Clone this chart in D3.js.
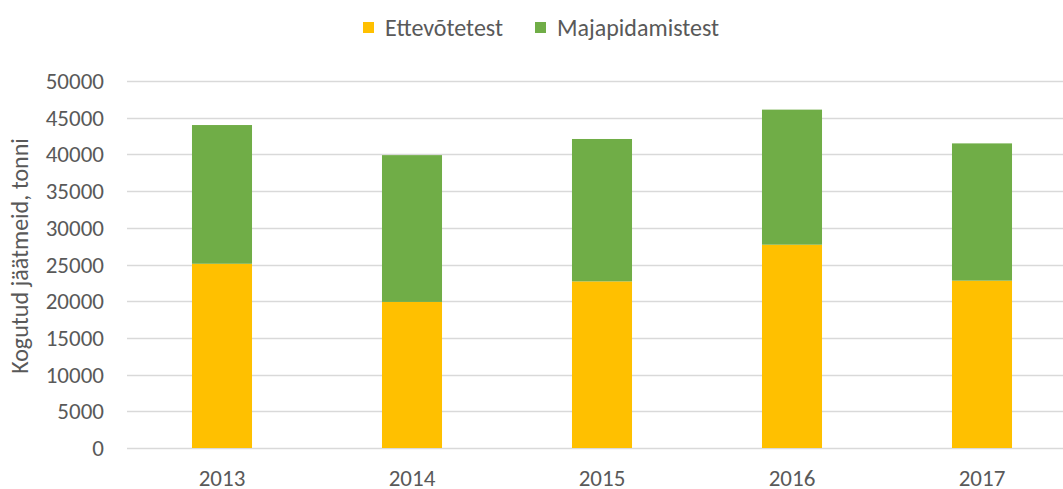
<!DOCTYPE html>
<html>
<head>
<meta charset="utf-8">
<script src="https://cdn.jsdelivr.net/npm/d3@7"></script>
<style>
  body { margin: 0; background: #fff; }
  text { font-family: Carlito, Calibri, Lato, sans-serif; fill: #595959; }
</style>
</head>
<body>
<div id="chart"></div>
<script>
var years = ["2013", "2014", "2015", "2016", "2017"];
var ettevotetest = [25100, 19900, 22700, 27700, 22800];
var majapidamistest = [18900, 20000, 19400, 18400, 18700];
var seriesNames = ["Ettevõtetest", "Majapidamistest"];
var seriesColors = ["#FFC000", "#70AD47"];
var yTicks = [0, 5000, 10000, 15000, 20000, 25000, 30000, 35000, 40000, 45000, 50000];

var width = 1063, height = 489,
  margin = {top: 81, left: 127, bottom: 41, right: -14};

var rows = years.map(function(y, i) {
  return {year: y, "Ettevõtetest": ettevotetest[i], "Majapidamistest": majapidamistest[i]};
});

var stack = d3.stack().keys(seriesNames)(rows);

var x = d3.scaleBand()
  .domain(years)
  .range([margin.left, width - margin.right])
  .paddingInner(0.684)
  .paddingOuter(0.342);

var y = d3.scaleLinear()
  .domain([0, 50000])
  .range([height - margin.bottom, margin.top]);

var color = d3.scaleOrdinal().domain(seriesNames).range(seriesColors);

var svg = d3.select("#chart").append("svg")
  .attr("width", width)
  .attr("height", height);

// gridlines
svg.append("g")
  .selectAll("line")
  .data(yTicks)
  .enter()
  .append("line")
  .attr("x1", margin.left)
  .attr("x2", width - margin.right)
  .attr("y1", function(d) { return Math.round(y(d)) + 0.5; })
  .attr("y2", function(d) { return Math.round(y(d)) + 0.5; })
  .style("stroke", "#D9D9D9")
  .style("stroke-width", 1.5);

// y tick labels
svg.append("g")
  .selectAll("text")
  .data(yTicks)
  .enter()
  .append("text")
  .attr("x", 104)
  .attr("y", function(d) { return y(d); })
  .attr("dy", "0.35em")
  .style("text-anchor", "end")
  .style("font-size", "23px")
  .text(function(d) { return d; });

// bars
svg.append("g")
  .selectAll("g")
  .data(stack)
  .enter()
  .append("g")
  .style("fill", function(d) { return color(d.key); })
  .selectAll("rect")
  .data(function(d) { return d; })
  .enter()
  .append("rect")
  .attr("x", function(d) { return x(d.data.year); })
  .attr("width", x.bandwidth())
  .attr("y", function(d) { return y(d[1]); })
  .attr("height", function(d) { return y(d[0]) - y(d[1]); });

// x labels
svg.append("g")
  .selectAll("text")
  .data(years)
  .enter()
  .append("text")
  .attr("x", function(d) { return x(d) + x.bandwidth() / 2; })
  .attr("y", 478)
  .attr("dy", "0.35em")
  .style("text-anchor", "middle")
  .style("font-size", "23px")
  .text(function(d) { return d; });

// y axis title
svg.append("text")
  .attr("transform", "translate(28," + 256 + ") rotate(-90)")
  .style("text-anchor", "middle")
  .style("font-size", "24px")
  .text("Kogutud jäätmeid, tonni");

// legend
var legendX = [363, 535];
var legend = svg.append("g")
  .selectAll("g")
  .data(seriesNames)
  .enter()
  .append("g")
  .attr("transform", function(d, i) { return "translate(" + legendX[i] + ",22)"; });

legend.append("rect")
  .attr("width", 11)
  .attr("height", 11)
  .style("fill", function(d) { return color(d); });

legend.append("text")
  .attr("x", 22)
  .attr("y", 5.5)
  .attr("dy", "0.35em")
  .style("font-size", "24px")
  .text(function(d) { return d; });
</script>
</body>
</html>
